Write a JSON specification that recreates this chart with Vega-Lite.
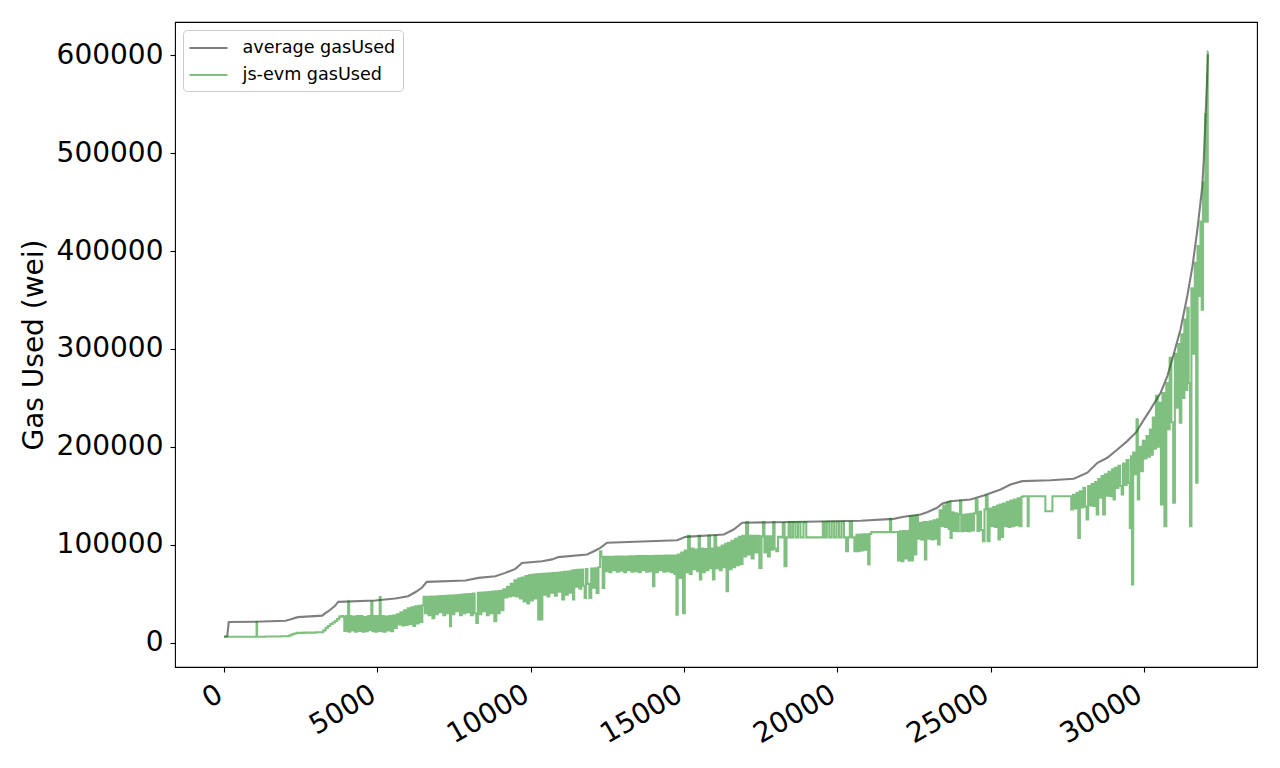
{
  "$schema": "https://vega.github.io/schema/vega-lite/v6.json",
  "width": 1082,
  "height": 645,
  "autosize": {"type": "none"},
  "padding": {"left": 175, "top": 22, "right": 23, "bottom": 101},
  "background": "white",
  "config": {
    "font": "DejaVu Sans",
    "view": {"stroke": "black", "strokeWidth": 1.1},
    "axis": {
      "domain": false,
      "grid": false,
      "tickColor": "black",
      "tickSize": 5,
      "tickWidth": 1.1,
      "labelColor": "black",
      "labelFont": "DejaVu Sans",
      "labelFontSize": 28,
      "titleFont": "DejaVu Sans",
      "titleFontSize": 28,
      "titleFontWeight": "normal",
      "titleColor": "black"
    }
  },
  "datasets": {
    "average": [
      {"x": 0, "gas": 6000}, {"x": 100, "gas": 6500}, {"x": 150, "gas": 21000}, {"x": 1000, "gas": 21300},
      {"x": 2000, "gas": 22300}, {"x": 2150, "gas": 23500}, {"x": 2400, "gas": 26000}, {"x": 3200, "gas": 27500},
      {"x": 3300, "gas": 30000}, {"x": 3400, "gas": 32000}, {"x": 3600, "gas": 37000}, {"x": 3720, "gas": 41600},
      {"x": 4930, "gas": 43000}, {"x": 5580, "gas": 45000}, {"x": 6000, "gas": 47300}, {"x": 6230, "gas": 51400},
      {"x": 6450, "gas": 56000}, {"x": 6610, "gas": 62000}, {"x": 7870, "gas": 63400}, {"x": 8300, "gas": 66100},
      {"x": 8845, "gas": 67800}, {"x": 9170, "gas": 71200}, {"x": 9500, "gas": 75300}, {"x": 9715, "gas": 81400},
      {"x": 10370, "gas": 83100}, {"x": 10700, "gas": 85000}, {"x": 10900, "gas": 87300}, {"x": 11840, "gas": 90000},
      {"x": 12060, "gas": 93300}, {"x": 12270, "gas": 96800}, {"x": 12490, "gas": 102000}, {"x": 14780, "gas": 104600},
      {"x": 15050, "gas": 108000}, {"x": 16300, "gas": 110400}, {"x": 16620, "gas": 115500}, {"x": 16900, "gas": 122400},
      {"x": 18500, "gas": 123200}, {"x": 20760, "gas": 124400}, {"x": 21840, "gas": 126400}, {"x": 22170, "gas": 128500},
      {"x": 22720, "gas": 130800}, {"x": 22930, "gas": 133200}, {"x": 23260, "gas": 137700}, {"x": 23430, "gas": 142100},
      {"x": 23700, "gas": 144400}, {"x": 24350, "gas": 146200}, {"x": 24780, "gas": 150300}, {"x": 25330, "gas": 156400},
      {"x": 25650, "gas": 161500}, {"x": 26040, "gas": 164900}, {"x": 26960, "gas": 165900}, {"x": 27720, "gas": 167300},
      {"x": 28160, "gas": 173500}, {"x": 28490, "gas": 183700}, {"x": 28810, "gas": 188800}, {"x": 29140, "gas": 197300},
      {"x": 29460, "gas": 205800}, {"x": 29740, "gas": 214400}, {"x": 30010, "gas": 228000}, {"x": 30220, "gas": 238200},
      {"x": 30550, "gas": 255200}, {"x": 30770, "gas": 272200}, {"x": 30990, "gas": 296100}, {"x": 31200, "gas": 320000},
      {"x": 31420, "gas": 354000}, {"x": 31590, "gas": 384600}, {"x": 31750, "gas": 422200}, {"x": 31910, "gas": 466400},
      {"x": 31960, "gas": 495000}, {"x": 32020, "gas": 541400}, {"x": 32060, "gas": 570000}, {"x": 32090, "gas": 601000}
    ],
    "jsevm": [
      {"x": 0, "gas": 6000}, {"x": 500, "gas": 6000}, {"x": 1050, "gas": 6000}, {"x": 1065, "gas": 21000},
      {"x": 1080, "gas": 6000}, {"x": 1600, "gas": 6200}, {"x": 2090, "gas": 6500}, {"x": 2170, "gas": 7500},
      {"x": 2250, "gas": 8500}, {"x": 2330, "gas": 9300}, {"x": 2400, "gas": 9900}, {"x": 2800, "gas": 10200},
      {"x": 3190, "gas": 10500}, {"x": 3270, "gas": 12500}, {"x": 3350, "gas": 15000}, {"x": 3420, "gas": 17000},
      {"x": 3500, "gas": 19000}, {"x": 3580, "gas": 20500}, {"x": 3650, "gas": 22000}, {"x": 3720, "gas": 24000},
      {"x": 3790, "gas": 26500}, {"x": 3850, "gas": 27000}, {"x": 3900, "gas": 26500},
      {"x": 3940, "gas": 12000}, {"x": 4000, "gas": 27000}, {"x": 4030, "gas": 11500}, {"x": 4060, "gas": 42000},
      {"x": 4090, "gas": 11000}, {"x": 4120, "gas": 27000}, {"x": 4180, "gas": 12500}, {"x": 4240, "gas": 26500},
      {"x": 4300, "gas": 11000}, {"x": 4360, "gas": 27000}, {"x": 4420, "gas": 12000}, {"x": 4480, "gas": 27000},
      {"x": 4540, "gas": 11000}, {"x": 4600, "gas": 26000}, {"x": 4660, "gas": 11500}, {"x": 4720, "gas": 27000},
      {"x": 4780, "gas": 13000}, {"x": 4820, "gas": 42000}, {"x": 4850, "gas": 11500}, {"x": 4900, "gas": 27000},
      {"x": 4960, "gas": 11000}, {"x": 5020, "gas": 27000}, {"x": 5060, "gas": 12000}, {"x": 5090, "gas": 46500},
      {"x": 5120, "gas": 11500}, {"x": 5180, "gas": 27000}, {"x": 5240, "gas": 11000}, {"x": 5300, "gas": 26500},
      {"x": 5360, "gas": 12500}, {"x": 5420, "gas": 27000}, {"x": 5480, "gas": 11500}, {"x": 5540, "gas": 27500},
      {"x": 5600, "gas": 15000}, {"x": 5660, "gas": 29000}, {"x": 5720, "gas": 18500}, {"x": 5780, "gas": 31000},
      {"x": 5840, "gas": 17500}, {"x": 5900, "gas": 33000}, {"x": 5960, "gas": 18000}, {"x": 6020, "gas": 35000},
      {"x": 6080, "gas": 19000}, {"x": 6140, "gas": 36000}, {"x": 6200, "gas": 17000}, {"x": 6260, "gas": 37000},
      {"x": 6320, "gas": 19500}, {"x": 6380, "gas": 37500}, {"x": 6440, "gas": 21000}, {"x": 6490, "gas": 38000},
      {"x": 6520, "gas": 46700}, {"x": 6580, "gas": 30000}, {"x": 6640, "gas": 46800}, {"x": 6700, "gas": 28000},
      {"x": 6760, "gas": 47000}, {"x": 6830, "gas": 25000}, {"x": 6880, "gas": 47000}, {"x": 6940, "gas": 29000},
      {"x": 7000, "gas": 47300}, {"x": 7060, "gas": 31000}, {"x": 7120, "gas": 47500}, {"x": 7180, "gas": 28000},
      {"x": 7240, "gas": 47800}, {"x": 7300, "gas": 30000}, {"x": 7360, "gas": 48000}, {"x": 7380, "gas": 16700},
      {"x": 7420, "gas": 48000}, {"x": 7480, "gas": 29000}, {"x": 7540, "gas": 48300}, {"x": 7600, "gas": 32000},
      {"x": 7660, "gas": 48600}, {"x": 7720, "gas": 28000}, {"x": 7780, "gas": 49000}, {"x": 7840, "gas": 30000},
      {"x": 7900, "gas": 49300}, {"x": 7960, "gas": 31000}, {"x": 8020, "gas": 49700}, {"x": 8080, "gas": 28000},
      {"x": 8140, "gas": 50000}, {"x": 8200, "gas": 30000}, {"x": 8250, "gas": 20100}, {"x": 8300, "gas": 50800},
      {"x": 8360, "gas": 29000}, {"x": 8420, "gas": 51000}, {"x": 8480, "gas": 32000}, {"x": 8540, "gas": 51300},
      {"x": 8600, "gas": 28000}, {"x": 8660, "gas": 51600}, {"x": 8720, "gas": 30000}, {"x": 8780, "gas": 52000},
      {"x": 8850, "gas": 21800}, {"x": 8900, "gas": 52400}, {"x": 8960, "gas": 30000}, {"x": 9020, "gas": 52800},
      {"x": 9080, "gas": 33000}, {"x": 9140, "gas": 54500}, {"x": 9200, "gas": 46000}, {"x": 9260, "gas": 57000},
      {"x": 9320, "gas": 47000}, {"x": 9380, "gas": 60000}, {"x": 9440, "gas": 48000}, {"x": 9500, "gas": 63500},
      {"x": 9560, "gas": 47000}, {"x": 9620, "gas": 65500}, {"x": 9680, "gas": 45000}, {"x": 9740, "gas": 66500},
      {"x": 9800, "gas": 42000}, {"x": 9860, "gas": 68000}, {"x": 9920, "gas": 40000}, {"x": 9980, "gas": 69000},
      {"x": 10040, "gas": 43000}, {"x": 10100, "gas": 69500}, {"x": 10160, "gas": 45000}, {"x": 10220, "gas": 69800},
      {"x": 10270, "gas": 23500}, {"x": 10310, "gas": 70000}, {"x": 10360, "gas": 23500}, {"x": 10400, "gas": 70200},
      {"x": 10460, "gas": 49000}, {"x": 10520, "gas": 70500}, {"x": 10580, "gas": 47000}, {"x": 10640, "gas": 70800},
      {"x": 10700, "gas": 51000}, {"x": 10760, "gas": 71100}, {"x": 10820, "gas": 48000}, {"x": 10880, "gas": 71400},
      {"x": 10940, "gas": 52000}, {"x": 11000, "gas": 71700}, {"x": 11060, "gas": 44000}, {"x": 11120, "gas": 72200},
      {"x": 11180, "gas": 49000}, {"x": 11240, "gas": 72600}, {"x": 11300, "gas": 51000}, {"x": 11360, "gas": 73500},
      {"x": 11400, "gas": 44000}, {"x": 11440, "gas": 74000}, {"x": 11500, "gas": 57000}, {"x": 11560, "gas": 74300},
      {"x": 11620, "gas": 55000}, {"x": 11680, "gas": 74600}, {"x": 11740, "gas": 58000}, {"x": 11780, "gas": 45700},
      {"x": 11820, "gas": 75000}, {"x": 11880, "gas": 60000}, {"x": 11950, "gas": 45700}, {"x": 12000, "gas": 75500},
      {"x": 12060, "gas": 56000}, {"x": 12120, "gas": 76000}, {"x": 12180, "gas": 50800}, {"x": 12240, "gas": 77000},
      {"x": 12290, "gas": 93300}, {"x": 12320, "gas": 87600}, {"x": 12380, "gas": 55900}, {"x": 12420, "gas": 87600},
      {"x": 12480, "gas": 73000}, {"x": 12540, "gas": 87700}, {"x": 12600, "gas": 72000}, {"x": 12660, "gas": 87700},
      {"x": 12720, "gas": 74000}, {"x": 12780, "gas": 87800}, {"x": 12840, "gas": 72500}, {"x": 12900, "gas": 87900},
      {"x": 12960, "gas": 73500}, {"x": 13020, "gas": 88000}, {"x": 13080, "gas": 72000}, {"x": 13140, "gas": 88000},
      {"x": 13200, "gas": 74000}, {"x": 13260, "gas": 88100}, {"x": 13320, "gas": 72500}, {"x": 13380, "gas": 88200},
      {"x": 13440, "gas": 73000}, {"x": 13500, "gas": 88300}, {"x": 13560, "gas": 72000}, {"x": 13620, "gas": 88300},
      {"x": 13680, "gas": 74000}, {"x": 13740, "gas": 88400}, {"x": 13800, "gas": 72500}, {"x": 13860, "gas": 88500},
      {"x": 13920, "gas": 73000}, {"x": 13970, "gas": 88500}, {"x": 14010, "gas": 57500}, {"x": 14060, "gas": 88600},
      {"x": 14120, "gas": 72000}, {"x": 14180, "gas": 88700}, {"x": 14240, "gas": 74000}, {"x": 14300, "gas": 88700},
      {"x": 14360, "gas": 72500}, {"x": 14420, "gas": 88800}, {"x": 14480, "gas": 73000}, {"x": 14540, "gas": 88900},
      {"x": 14600, "gas": 72000}, {"x": 14660, "gas": 89000}, {"x": 14710, "gas": 70000}, {"x": 14740, "gas": 89000},
      {"x": 14770, "gas": 28600}, {"x": 14820, "gas": 90000}, {"x": 14880, "gas": 66000}, {"x": 14940, "gas": 92000},
      {"x": 15000, "gas": 30000}, {"x": 15050, "gas": 94000}, {"x": 15110, "gas": 72000}, {"x": 15160, "gas": 109000},
      {"x": 15220, "gas": 70000}, {"x": 15280, "gas": 96000}, {"x": 15340, "gas": 75000}, {"x": 15400, "gas": 95000},
      {"x": 15460, "gas": 73000}, {"x": 15500, "gas": 109000}, {"x": 15540, "gas": 64400}, {"x": 15590, "gas": 96000},
      {"x": 15650, "gas": 72000}, {"x": 15710, "gas": 95500}, {"x": 15770, "gas": 74000}, {"x": 15820, "gas": 109000},
      {"x": 15880, "gas": 76000}, {"x": 15920, "gas": 96000}, {"x": 15970, "gas": 64400}, {"x": 16020, "gas": 109000},
      {"x": 16080, "gas": 76000}, {"x": 16140, "gas": 97000}, {"x": 16200, "gas": 74000}, {"x": 16260, "gas": 99000},
      {"x": 16320, "gas": 77000}, {"x": 16370, "gas": 101000}, {"x": 16410, "gas": 52400}, {"x": 16460, "gas": 102000},
      {"x": 16520, "gas": 75000}, {"x": 16580, "gas": 104000}, {"x": 16640, "gas": 77000}, {"x": 16700, "gas": 106000},
      {"x": 16760, "gas": 79000}, {"x": 16820, "gas": 108000}, {"x": 16880, "gas": 80000}, {"x": 16940, "gas": 109000},
      {"x": 17000, "gas": 88000}, {"x": 17060, "gas": 123000}, {"x": 17120, "gas": 90000}, {"x": 17180, "gas": 109000},
      {"x": 17240, "gas": 86000}, {"x": 17300, "gas": 109000}, {"x": 17360, "gas": 92000}, {"x": 17420, "gas": 109000},
      {"x": 17500, "gas": 76300}, {"x": 17560, "gas": 108500}, {"x": 17600, "gas": 123000}, {"x": 17650, "gas": 92000},
      {"x": 17710, "gas": 108500}, {"x": 17770, "gas": 88000}, {"x": 17830, "gas": 108500}, {"x": 17890, "gas": 95000},
      {"x": 17930, "gas": 123000}, {"x": 17980, "gas": 96000}, {"x": 18040, "gas": 93300}, {"x": 18100, "gas": 108000},
      {"x": 18200, "gas": 107500}, {"x": 18250, "gas": 122000}, {"x": 18310, "gas": 78000}, {"x": 18380, "gas": 107500},
      {"x": 18450, "gas": 123000}, {"x": 18520, "gas": 107500}, {"x": 18600, "gas": 123000}, {"x": 18680, "gas": 107500},
      {"x": 18760, "gas": 123000}, {"x": 18840, "gas": 107500}, {"x": 18960, "gas": 123000}, {"x": 19020, "gas": 107500},
      {"x": 19500, "gas": 107500}, {"x": 19560, "gas": 123000}, {"x": 19620, "gas": 107500}, {"x": 19700, "gas": 123500},
      {"x": 19780, "gas": 107500}, {"x": 19860, "gas": 123500}, {"x": 19940, "gas": 107500}, {"x": 20020, "gas": 123500},
      {"x": 20100, "gas": 107500}, {"x": 20180, "gas": 123500}, {"x": 20260, "gas": 107500}, {"x": 20320, "gas": 93300},
      {"x": 20380, "gas": 107500}, {"x": 20440, "gas": 123500}, {"x": 20520, "gas": 107500}, {"x": 20600, "gas": 93300},
      {"x": 20650, "gas": 110000}, {"x": 20700, "gas": 93300}, {"x": 20760, "gas": 110300}, {"x": 20820, "gas": 94000},
      {"x": 20880, "gas": 110500}, {"x": 20940, "gas": 95000}, {"x": 20990, "gas": 110700}, {"x": 21030, "gas": 79700},
      {"x": 21080, "gas": 111000}, {"x": 21140, "gas": 112800}, {"x": 21700, "gas": 112800}, {"x": 21740, "gas": 126400},
      {"x": 21780, "gas": 112800}, {"x": 21960, "gas": 113000}, {"x": 22010, "gas": 84000}, {"x": 22070, "gas": 113800},
      {"x": 22130, "gas": 83100}, {"x": 22190, "gas": 114000}, {"x": 22250, "gas": 86000}, {"x": 22310, "gas": 114000},
      {"x": 22350, "gas": 84000}, {"x": 22390, "gas": 129000}, {"x": 22440, "gas": 84000}, {"x": 22500, "gas": 129100},
      {"x": 22550, "gas": 90000}, {"x": 22610, "gas": 129500}, {"x": 22660, "gas": 106000}, {"x": 22720, "gas": 122400},
      {"x": 22780, "gas": 105000}, {"x": 22840, "gas": 123000}, {"x": 22880, "gas": 84800}, {"x": 22930, "gas": 123000},
      {"x": 22990, "gas": 106000}, {"x": 23050, "gas": 124000}, {"x": 23110, "gas": 105300}, {"x": 23170, "gas": 125000},
      {"x": 23230, "gas": 106000}, {"x": 23270, "gas": 126000}, {"x": 23310, "gas": 100200}, {"x": 23370, "gas": 135000},
      {"x": 23430, "gas": 119000}, {"x": 23490, "gas": 140000}, {"x": 23550, "gas": 118000}, {"x": 23610, "gas": 143000},
      {"x": 23660, "gas": 116000}, {"x": 23680, "gas": 144000}, {"x": 23710, "gas": 107000}, {"x": 23760, "gas": 133000},
      {"x": 23820, "gas": 114000}, {"x": 23880, "gas": 132000}, {"x": 23940, "gas": 113800}, {"x": 23990, "gas": 131000},
      {"x": 24020, "gas": 145000}, {"x": 24070, "gas": 113800}, {"x": 24130, "gas": 130500}, {"x": 24190, "gas": 114000},
      {"x": 24250, "gas": 131000}, {"x": 24310, "gas": 113800}, {"x": 24370, "gas": 131500}, {"x": 24430, "gas": 114500},
      {"x": 24490, "gas": 132000}, {"x": 24550, "gas": 146000}, {"x": 24600, "gas": 114000}, {"x": 24660, "gas": 133500},
      {"x": 24720, "gas": 115000}, {"x": 24780, "gas": 103500}, {"x": 24830, "gas": 136000}, {"x": 24870, "gas": 150000},
      {"x": 24940, "gas": 103500}, {"x": 25000, "gas": 137000}, {"x": 25060, "gas": 119000}, {"x": 25120, "gas": 138500},
      {"x": 25180, "gas": 118000}, {"x": 25240, "gas": 140000}, {"x": 25280, "gas": 105300}, {"x": 25330, "gas": 141000},
      {"x": 25380, "gas": 108000}, {"x": 25440, "gas": 142000}, {"x": 25500, "gas": 119000}, {"x": 25560, "gas": 143500},
      {"x": 25620, "gas": 118000}, {"x": 25680, "gas": 145000}, {"x": 25740, "gas": 119000}, {"x": 25800, "gas": 146000},
      {"x": 25860, "gas": 120000}, {"x": 25920, "gas": 147500}, {"x": 25980, "gas": 118900}, {"x": 26040, "gas": 149000},
      {"x": 26100, "gas": 149500}, {"x": 26200, "gas": 149500}, {"x": 26230, "gas": 118900}, {"x": 26260, "gas": 149500},
      {"x": 26780, "gas": 149500}, {"x": 26800, "gas": 134200}, {"x": 27010, "gas": 134200}, {"x": 27030, "gas": 149500},
      {"x": 27610, "gas": 149500}, {"x": 27660, "gas": 136000}, {"x": 27720, "gas": 151000}, {"x": 27780, "gas": 137000},
      {"x": 27840, "gas": 153000}, {"x": 27890, "gas": 107000}, {"x": 27940, "gas": 154500}, {"x": 28000, "gas": 138000},
      {"x": 28060, "gas": 158000}, {"x": 28110, "gas": 139000}, {"x": 28160, "gas": 125700}, {"x": 28210, "gas": 160000},
      {"x": 28270, "gas": 140000}, {"x": 28330, "gas": 162000}, {"x": 28390, "gas": 139500}, {"x": 28440, "gas": 164000},
      {"x": 28490, "gas": 130800}, {"x": 28540, "gas": 167000}, {"x": 28600, "gas": 148000}, {"x": 28650, "gas": 170000},
      {"x": 28700, "gas": 130800}, {"x": 28760, "gas": 172000}, {"x": 28820, "gas": 150000}, {"x": 28880, "gas": 174500},
      {"x": 28940, "gas": 149500}, {"x": 29000, "gas": 177000}, {"x": 29030, "gas": 146200}, {"x": 29080, "gas": 178500},
      {"x": 29140, "gas": 158000}, {"x": 29200, "gas": 180500}, {"x": 29260, "gas": 160000}, {"x": 29300, "gas": 151300},
      {"x": 29350, "gas": 183000}, {"x": 29410, "gas": 161000}, {"x": 29470, "gas": 186500}, {"x": 29530, "gas": 163000},
      {"x": 29560, "gas": 117200}, {"x": 29600, "gas": 190400}, {"x": 29630, "gas": 59300}, {"x": 29680, "gas": 194000},
      {"x": 29740, "gas": 172000}, {"x": 29790, "gas": 228000}, {"x": 29820, "gas": 146200}, {"x": 29880, "gas": 200000},
      {"x": 29940, "gas": 175000}, {"x": 30000, "gas": 206000}, {"x": 30060, "gas": 188000}, {"x": 30120, "gas": 211000},
      {"x": 30180, "gas": 190000}, {"x": 30220, "gas": 217700}, {"x": 30270, "gas": 192000}, {"x": 30320, "gas": 230000},
      {"x": 30380, "gas": 198000}, {"x": 30420, "gas": 252000}, {"x": 30480, "gas": 200000}, {"x": 30540, "gas": 245000},
      {"x": 30580, "gas": 141000}, {"x": 30640, "gas": 255000}, {"x": 30710, "gas": 118900}, {"x": 30760, "gas": 265000},
      {"x": 30820, "gas": 218000}, {"x": 30870, "gas": 291000}, {"x": 30930, "gas": 225000}, {"x": 30990, "gas": 142800},
      {"x": 31040, "gas": 295000}, {"x": 31100, "gas": 240000}, {"x": 31150, "gas": 305000}, {"x": 31200, "gas": 224600},
      {"x": 31250, "gas": 315000}, {"x": 31300, "gas": 250000}, {"x": 31350, "gas": 330000}, {"x": 31400, "gas": 258000},
      {"x": 31440, "gas": 342000}, {"x": 31490, "gas": 265000}, {"x": 31530, "gas": 118900}, {"x": 31580, "gas": 362000},
      {"x": 31640, "gas": 295000}, {"x": 31690, "gas": 388000}, {"x": 31730, "gas": 163200}, {"x": 31780, "gas": 405000},
      {"x": 31830, "gas": 354000}, {"x": 31870, "gas": 430000}, {"x": 31910, "gas": 340000}, {"x": 31950, "gas": 470000},
      {"x": 31990, "gas": 430000}, {"x": 32030, "gas": 540000}, {"x": 32060, "gas": 432400}, {"x": 32075, "gas": 580000},
      {"x": 32085, "gas": 430000}, {"x": 32090, "gas": 604000}
    ]
  },
  "encoding": {
    "x": {
      "field": "x",
      "type": "quantitative",
      "scale": {"domain": [-1604, 33694], "nice": false, "zero": false},
      "axis": {
        "title": null,
        "values": [0, 5000, 10000, 15000, 20000, 25000, 30000],
        "format": "d",
        "labelAngle": -30,
        "labelAlign": "right",
        "labelBaseline": "top",
        "labelPadding": 8,
        "labelOffset": -11
      }
    },
    "y": {
      "field": "gas",
      "type": "quantitative",
      "scale": {"domain": [-24950, 633950], "nice": false, "zero": false},
      "axis": {
        "title": "Gas Used (wei)",
        "values": [0, 100000, 200000, 300000, 400000, 500000, 600000],
        "format": "d",
        "labelPadding": 7,
        "titlePadding": 8
      }
    }
  },
  "layer": [
    {
      "data": {"name": "average"},
      "mark": {"type": "line", "strokeWidth": 2.1, "opacity": 0.5},
      "encoding": {
        "color": {
          "datum": "average gasUsed",
          "type": "nominal",
          "scale": {"domain": ["average gasUsed", "js-evm gasUsed"], "range": ["black", "green"]},
          "legend": {
            "title": null,
            "orient": "top-left",
            "offset": 8,
            "padding": 7,
            "strokeColor": "#cccccc",
            "fillColor": "rgba(255,255,255,0.8)",
            "cornerRadius": 4,
            "labelFont": "DejaVu Sans",
            "labelFontSize": 17.6,
            "labelColor": "black",
            "labelOffset": 23,
            "symbolType": "M-2,0H2",
            "symbolSize": 361,
            "symbolOffset": 7.5,
            "symbolStrokeWidth": 2.1,
            "symbolOpacity": 0.5,
            "rowPadding": 7
          }
        }
      }
    },
    {
      "data": {"name": "jsevm"},
      "mark": {"type": "line", "strokeWidth": 2.1, "opacity": 0.5, "interpolate": "step"},
      "encoding": {
        "color": {"datum": "js-evm gasUsed", "type": "nominal"}
      }
    }
  ]
}
